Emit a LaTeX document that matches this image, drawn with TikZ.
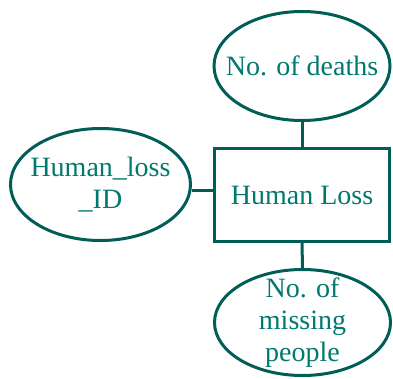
\documentclass[tikz,border=0pt]{standalone}
\usepackage{fontspec}
\setmainfont{Liberation Serif}
\usetikzlibrary{shapes.geometric}
\definecolor{tealtext}{RGB}{0,121,110}
\definecolor{tealline}{RGB}{0,94,86}
\begin{document}
\begin{tikzpicture}[x=1pt,y=-1pt,
  every node/.style={font=\fontsize{28}{32}\selectfont, text=tealtext, align=center, inner sep=0pt},
  attr/.style={draw=tealline, line width=3pt, ellipse, inner xsep=-30pt, inner ysep=-30pt},
  entity/.style={draw=tealline, line width=3pt, rectangle},
  link/.style={draw=tealline, line width=3pt}]
  \useasboundingbox (0,0) rectangle (393,378);
  \node[entity, minimum width=175pt, minimum height=93pt] (loss) at (302,195) {Human Loss};
  \node[attr, minimum width=176pt, minimum height=109pt] (deaths) at (302,66) {No. of deaths};
  \node[attr, minimum width=180pt, minimum height=112pt] (id) at (100.5,184.5) {Human\_loss\\\_ID};
  \node[attr, minimum width=176pt, minimum height=106pt] (missing) at (302.5,322.5) {No. of\\missing\\people};
  \draw[link] (deaths.south) -- (loss.north);
  \draw[link] (id.east |- 0,190) -- (loss.west |- 0,190);
  \draw[link] (loss.south) -- (missing.north);
\end{tikzpicture}
\end{document}
